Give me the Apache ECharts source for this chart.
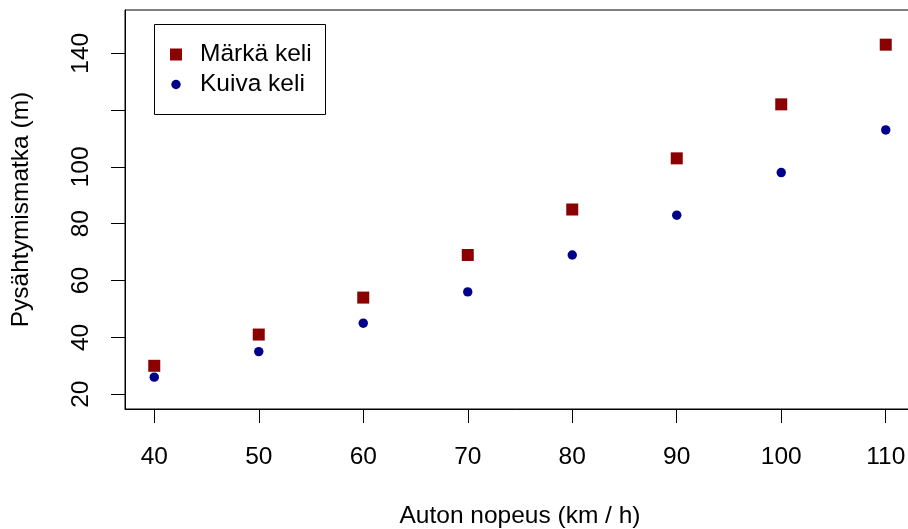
<!DOCTYPE html>
<html>
<head>
<meta charset="utf-8">
<script src="https://cdn.jsdelivr.net/npm/echarts@6/dist/echarts.min.js"></script>
<style>html,body{margin:0;padding:0;background:#fff}#c{width:908px;height:529px}</style>
</head>
<body>
<div id="c"></div>
<script>
var speeds = [40, 50, 60, 70, 80, 90, 100, 110];
var wetDistance = [30, 41, 54, 69, 85, 103, 122, 143];
var dryDistance = [26, 35, 45, 56, 69, 83, 98, 113];
var xTicks = [40, 50, 60, 70, 80, 90, 100, 110];
var yTicks = [20, 40, 60, 80, 100, 120, 140];
var yTickLabels = [20, 40, 60, 80, 100, 140];
var seriesNames = ['Märkä keli', 'Kuiva keli'];
var xTitle = 'Auton nopeus (km / h)';
var yTitle = 'Pysähtymismatka (m)';

var FONT = "'Liberation Sans', Arial, Helvetica, sans-serif";
var FS = 24.5;

function pairs(xs, ys) { return xs.map(function (x, i) { return [x, ys[i]]; }); }

var chart = echarts.init(document.getElementById('c'), null, { renderer: 'canvas' });
chart.setOption({
  animation: false,
  backgroundColor: '#fff',
  textStyle: { fontFamily: FONT, color: '#000' },
  grid: { left: 125, top: 10, right: -7, bottom: 120, outerBoundsMode: 'none', containLabel: false,
          show: true, borderColor: '#000', borderWidth: 1, backgroundColor: 'transparent' },
  xAxis: {
    type: 'value', min: 37.2, max: 112.8,
    name: xTitle, nameLocation: 'middle', nameGap: 95,
    nameTextStyle: { fontFamily: FONT, fontSize: FS, color: '#000' },
    axisLine: { show: true, onZero: false, lineStyle: { color: '#000', width: 1 } },
    axisTick: { show: true, length: 14, customValues: xTicks, lineStyle: { color: '#000', width: 1 } },
    axisLabel: { customValues: xTicks, margin: 36, fontFamily: FONT, fontSize: FS, color: '#000', hideOverlap: false },
    splitLine: { show: false }
  },
  yAxis: {
    type: 'value', min: 14.8, max: 155.2,
    name: yTitle, nameLocation: 'middle', nameGap: 91, nameRotate: 90,
    nameTextStyle: { fontFamily: FONT, fontSize: FS, color: '#000' },
    axisLine: { show: true, onZero: false, lineStyle: { color: '#000', width: 1 } },
    axisTick: { show: true, length: 14, customValues: yTicks, lineStyle: { color: '#000', width: 1 } },
    axisLabel: { customValues: yTickLabels, rotate: 90, margin: 31, fontFamily: FONT, fontSize: FS, color: '#000', hideOverlap: false },
    splitLine: { show: false }
  },
  legend: [
    {
      data: [{ name: seriesNames[0], icon: 'rect' }],
      left: 170, top: 42, padding: 0, itemWidth: 12, itemHeight: 12,
      textStyle: { fontFamily: FONT, fontSize: FS, color: '#000', padding: [0, 0, 0, 13], lineHeight: 25 }
    },
    {
      data: [{ name: seriesNames[1], icon: 'circle' }],
      left: 171.3, top: 72, padding: 0, itemWidth: 9.4, itemHeight: 9.4,
      textStyle: { fontFamily: FONT, fontSize: FS, color: '#000', padding: [0, 0, 0, 14.3], lineHeight: 25 }
    }
  ],
  graphic: [
    { type: 'rect', left: 154, top: 24, shape: { width: 171, height: 90 }, style: { fill: 'transparent', stroke: '#000', lineWidth: 1 }, z: 100 }
  ],
  series: [
    {
      name: seriesNames[0], type: 'scatter', symbol: 'rect', symbolSize: 12,
      itemStyle: { color: '#8B0000', opacity: 1 }, data: pairs(speeds, wetDistance)
    },
    {
      name: seriesNames[1], type: 'scatter', symbol: 'circle', symbolSize: 9.4,
      itemStyle: { color: '#00008B', opacity: 1 }, data: pairs(speeds, dryDistance)
    }
  ]
});
</script>
</body>
</html>
